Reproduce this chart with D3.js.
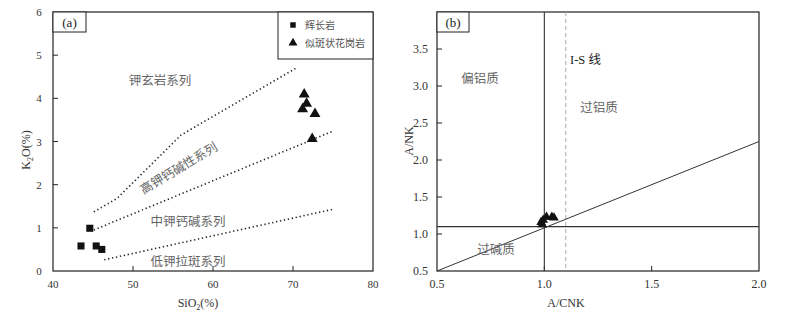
<!DOCTYPE html>
<html><head><meta charset="utf-8">
<script src="https://cdn.jsdelivr.net/npm/d3@7"></script>
<style>
body{margin:0;background:#fff;}
text{font-family:"Liberation Serif","Noto Sans CJK SC",serif;}
.cjk{font-family:"Noto Sans CJK SC",sans-serif;}
</style></head><body>
<svg id="c" width="790" height="316"></svg>
<script>
// ---- Panel (a) data: K2O vs SiO2 ----
const gabbroSiO2 = [43.5, 44.6, 45.4, 46.1];
const gabbroK2O  = [0.58, 0.99, 0.58, 0.50];
const graniteSiO2 = [71.4, 71.7, 71.2, 72.75, 72.4];
const graniteK2O  = [4.09, 3.88, 3.75, 3.64, 3.06];
const shoshoniteLine = [[45.1,1.37],[48,1.68],[56,3.15],[70.3,4.69]];
const highKLine = [[45.1,0.95],[75,3.24]];
const mediumKLine = [[46.4,0.26],[75,1.43]];
const aTicksX = [40,50,60,70,80];
const aTicksY = [0,1,2,3,4,5,6];
const aLegend = ["辉长岩","似斑状花岗岩"];
const aRegions = ["钾玄岩系列","高钾钙碱性系列","中钾钙碱系列","低钾拉斑系列"];

// ---- Panel (b) data: A/NK vs A/CNK ----
const bACNK = [0.985, 0.995, 1.01, 1.035, 1.045, 0.99];
const bANK  = [1.16, 1.19, 1.23, 1.23, 1.22, 1.13];
const bTicksX = [0.5,1.0,1.5,2.0];
const bTicksY = [0.5,1.0,1.5,2.0,2.5,3.0,3.5];
const bDiag = [[0.5,0.5],[2.0,2.25]];
const bRegions = ["偏铝质","过铝质","过碱质","I-S 线"];

const svg = d3.select("#c");
const pTop = 12, pBot = 271;

// ===== Panel A =====
const ax = d3.scaleLinear().domain([40,80]).range([53,373]);
const ay = d3.scaleLinear().domain([0,6]).range([pBot,pTop]);
const ga = svg.append("g");
ga.append("rect").attr("x",ax(40)).attr("y",ay(6)).attr("width",ax(80)-ax(40)).attr("height",ay(0)-ay(6))
  .attr("fill","none").attr("stroke","#222").attr("stroke-width",1.2);
aTicksX.forEach(v=>{
  if(v>40 && v<80) ga.append("line").attr("x1",ax(v)).attr("x2",ax(v)).attr("y1",ay(0)).attr("y2",ay(0)-5).attr("stroke","#222");
  ga.append("text").attr("x",ax(v)).attr("y",ay(0)+17).attr("text-anchor","middle").attr("font-size",11).attr("fill","#333").text(v);
});
aTicksY.forEach(v=>{
  if(v>0 && v<6) ga.append("line").attr("x1",ax(40)).attr("x2",ax(40)+5).attr("y1",ay(v)).attr("y2",ay(v)).attr("stroke","#222");
  ga.append("text").attr("x",ax(40)-14).attr("y",ay(v)+4).attr("text-anchor","middle").attr("font-size",11).attr("fill","#333").text(v);
});
const xl = ga.append("text").attr("x",198).attr("y",307).attr("text-anchor","middle").attr("font-size",12).attr("fill","#333");
xl.append("tspan").text("SiO");
xl.append("tspan").attr("font-size",8).attr("dy",3).text("2");
xl.append("tspan").attr("dy",-3).text("(%)");
const yl = ga.append("text").attr("transform","translate(30,150) rotate(-90)").attr("text-anchor","middle").attr("font-size",12).attr("fill","#333");
yl.append("tspan").text("K");
yl.append("tspan").attr("font-size",8).attr("dy",3).text("2");
yl.append("tspan").attr("dy",-3).text("O(%)");
const la = d3.line().x(d=>ax(d[0])).y(d=>ay(d[1]));
[shoshoniteLine, highKLine, mediumKLine].forEach(l=>{
  ga.append("path").attr("d",la(l)).attr("fill","none").attr("stroke","#222").attr("stroke-width",1.6)
    .attr("stroke-dasharray","1.3,2.7");
});
const gcol = "#666";
ga.append("text").attr("class","cjk").attr("x",160).attr("y",85).attr("text-anchor","middle").attr("font-size",12.5).attr("fill",gcol).text(aRegions[0]);
ga.append("text").attr("class","cjk").attr("transform","translate(181,172) rotate(-31)").attr("text-anchor","middle").attr("font-size",12.5).attr("fill",gcol).text(aRegions[1]);
ga.append("text").attr("class","cjk").attr("x",188).attr("y",226).attr("text-anchor","middle").attr("font-size",12.5).attr("fill",gcol).text(aRegions[2]);
ga.append("text").attr("class","cjk").attr("x",188).attr("y",266).attr("text-anchor","middle").attr("font-size",12.5).attr("fill",gcol).text(aRegions[3]);
const sq = d3.symbol().type(d3.symbolSquare).size(50);
const tri = d3.symbol().type(d3.symbolTriangle).size(52);
gabbroSiO2.forEach((v,i)=>{
  ga.append("path").attr("d",sq()).attr("transform",`translate(${ax(v)},${ay(gabbroK2O[i])})`).attr("fill","#111");
});
graniteSiO2.forEach((v,i)=>{
  ga.append("path").attr("d",tri()).attr("transform",`translate(${ax(v)},${ay(graniteK2O[i])})`).attr("fill","#111");
});
ga.append("rect").attr("x",53).attr("y",12).attr("width",33).attr("height",20).attr("fill","#fff").attr("stroke","#222").attr("stroke-width",1);
ga.append("text").attr("x",69.5).attr("y",27).attr("text-anchor","middle").attr("font-size",13).attr("fill","#222").text("(a)");
ga.append("rect").attr("x",278).attr("y",12).attr("width",95).attr("height",47).attr("fill","#fff").attr("stroke","#222").attr("stroke-width",1);
ga.append("path").attr("d",d3.symbol().type(d3.symbolSquare).size(30)()).attr("transform","translate(293,25)").attr("fill","#111");
ga.append("path").attr("d",d3.symbol().type(d3.symbolTriangle).size(35)()).attr("transform","translate(293,43)").attr("fill","#111");
ga.append("text").attr("class","cjk").attr("x",305).attr("y",29).attr("font-size",10).attr("fill","#555").text(aLegend[0]);
ga.append("text").attr("class","cjk").attr("x",305).attr("y",47).attr("font-size",10).attr("fill","#555").text(aLegend[1]);

// ===== Panel B =====
const bx = d3.scaleLinear().domain([0.5,2.0]).range([437,759]);
const by = d3.scaleLinear().domain([0.5,4.0]).range([pBot,pTop]);
const gb = svg.append("g");
gb.append("rect").attr("x",bx(0.5)).attr("y",pTop).attr("width",bx(2)-bx(0.5)).attr("height",pBot-pTop)
  .attr("fill","none").attr("stroke","#222").attr("stroke-width",1.2);
bTicksX.forEach(v=>{
  if(v>0.5 && v<2) gb.append("line").attr("x1",bx(v)).attr("x2",bx(v)).attr("y1",pBot).attr("y2",pBot-5).attr("stroke","#222");
  gb.append("text").attr("x",bx(v)).attr("y",pBot+17).attr("text-anchor","middle").attr("font-size",12).attr("fill","#333").text(v.toFixed(1));
});
bTicksY.forEach(v=>{
  if(v>0.5) gb.append("line").attr("x1",bx(0.5)).attr("x2",bx(0.5)+5).attr("y1",by(v)).attr("y2",by(v)).attr("stroke","#222");
  gb.append("text").attr("x",bx(0.5)-9).attr("y",by(v)+4).attr("text-anchor","end").attr("font-size",12).attr("fill","#333").text(v.toFixed(1));
});
gb.append("text").attr("x",566).attr("y",307).attr("text-anchor","middle").attr("font-size",12).attr("fill","#333").text("A/CNK");
gb.append("text").attr("transform","translate(413,141) rotate(-90)").attr("text-anchor","middle").attr("font-size",12).attr("fill","#333").text("A/NK");
gb.append("line").attr("x1",bx(1.0)).attr("x2",bx(1.0)).attr("y1",pTop).attr("y2",pBot).attr("stroke","#333").attr("stroke-width",1.1);
gb.append("line").attr("x1",bx(1.1)).attr("x2",bx(1.1)).attr("y1",pTop).attr("y2",pBot).attr("stroke","#aaa").attr("stroke-width",1).attr("stroke-dasharray","4,3");
gb.append("line").attr("x1",bx(0.5)).attr("x2",bx(2.0)).attr("y1",by(1.1)).attr("y2",by(1.1)).attr("stroke","#333").attr("stroke-width",1.1);
const lb = d3.line().x(d=>bx(d[0])).y(d=>by(d[1]));
gb.append("path").attr("d",lb(bDiag)).attr("fill","none").attr("stroke","#333").attr("stroke-width",1);
gb.append("text").attr("class","cjk").attr("x",480).attr("y",83).attr("text-anchor","middle").attr("font-size",12.5).attr("fill",gcol).text(bRegions[0]);
gb.append("text").attr("class","cjk").attr("x",599).attr("y",112).attr("text-anchor","middle").attr("font-size",12.5).attr("fill",gcol).text(bRegions[1]);
gb.append("text").attr("class","cjk").attr("x",496).attr("y",254).attr("text-anchor","middle").attr("font-size",12.5).attr("fill",gcol).text(bRegions[2]);
const is = gb.append("text").attr("x",570).attr("y",64).attr("font-size",12.5).attr("fill","#222");
is.append("tspan").text("I-S ");
is.append("tspan").attr("class","cjk").text("线");
bACNK.forEach((v,i)=>{
  gb.append("path").attr("d",d3.symbol().type(d3.symbolTriangle).size(40)()).attr("transform",`translate(${bx(v)},${by(bANK[i])})`).attr("fill","#111");
});
gb.append("rect").attr("x",437).attr("y",12).attr("width",32).attr("height",20).attr("fill","#fff").attr("stroke","#222").attr("stroke-width",1);
gb.append("text").attr("x",453).attr("y",27).attr("text-anchor","middle").attr("font-size",13).attr("fill","#222").text("(b)");
</script>
</body></html>
